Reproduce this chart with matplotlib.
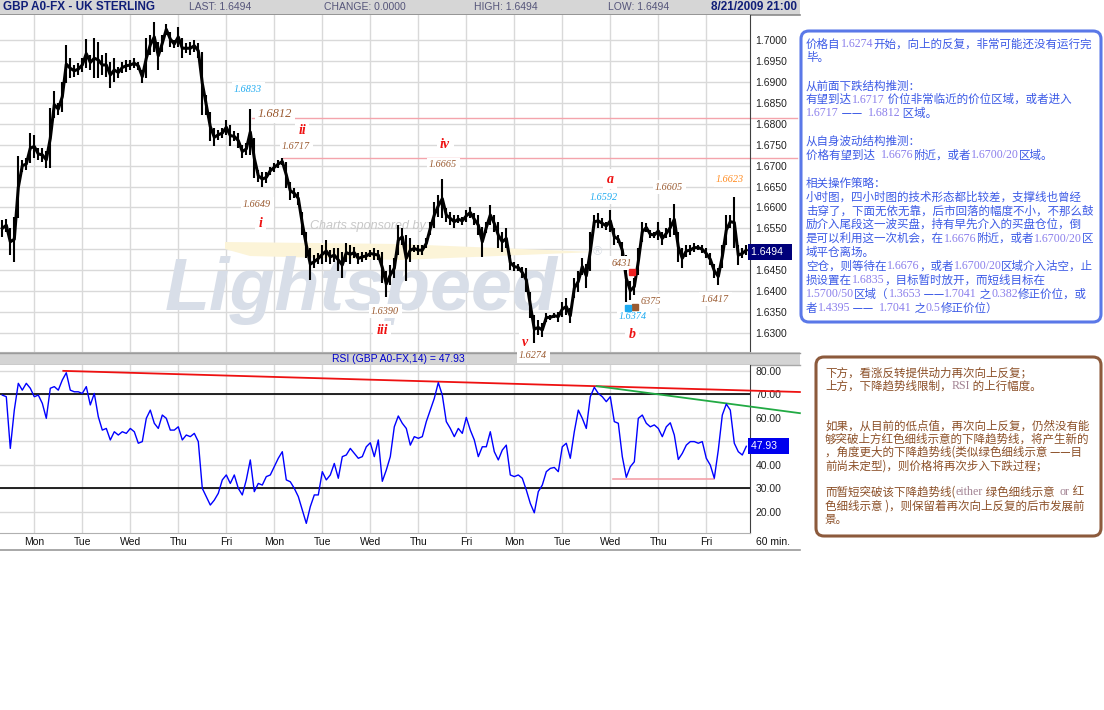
import re
import numpy as np
import matplotlib.pyplot as plt
from matplotlib.patches import Rectangle, FancyBboxPatch, Polygon

plt.rcParams['font.family'] = ['Liberation Sans', 'DejaVu Sans']
cjk = ['Noto Sans CJK SC', 'DejaVu Sans']

# GBP hourly chart, one bar every 2 hours, x = hours from the first Monday
hours = np.arange(-16, 357, 2)

price_lo = [1.6530, 1.6542, 1.6486, 1.6470, 1.6574, 1.6686, 1.6690, 1.6706, 1.6718, 1.6714,
            1.6710, 1.6694, 1.6694, 1.6813, 1.6821, 1.6829, 1.6897, 1.6909, 1.6913, 1.6917,
            1.6925, 1.6933, 1.6929, 1.6909, 1.6909, 1.6917, 1.6913, 1.6885, 1.6901, 1.6909,
            1.6921, 1.6925, 1.6929, 1.6933, 1.6929, 1.6897, 1.6909, 1.6965, 1.6973, 1.6929,
            1.6973, 1.7013, 1.6985, 1.6981, 1.6985, 1.6957, 1.6969, 1.6965, 1.6973, 1.6957,
            1.6821, 1.6821, 1.6758, 1.6746, 1.6762, 1.6766, 1.6774, 1.6746, 1.6758, 1.6742,
            1.6718, 1.6726, 1.6726, 1.6670, 1.6662, 1.6650, 1.6658, 1.6678, 1.6686, 1.6694,
            1.6702, 1.6646, 1.6618, 1.6622, 1.6606, 1.6534, 1.6478, 1.6427, 1.6455, 1.6466,
            1.6466, 1.6470, 1.6466, 1.6470, 1.6447, 1.6431, 1.6470, 1.6466, 1.6478, 1.6466,
            1.6470, 1.6474, 1.6482, 1.6474, 1.6474, 1.6419, 1.6387, 1.6415, 1.6431, 1.6486,
            1.6510, 1.6423, 1.6470, 1.6494, 1.6486, 1.6486, 1.6502, 1.6534, 1.6550, 1.6578,
            1.6574, 1.6566, 1.6558, 1.6550, 1.6562, 1.6558, 1.6566, 1.6574, 1.6558, 1.6534,
            1.6482, 1.6538, 1.6558, 1.6542, 1.6502, 1.6494, 1.6502, 1.6451, 1.6447, 1.6447,
            1.6431, 1.6399, 1.6335, 1.6275, 1.6295, 1.6291, 1.6327, 1.6331, 1.6335, 1.6327,
            1.6339, 1.6343, 1.6323, 1.6383, 1.6399, 1.6439, 1.6407, 1.6447, 1.6550, 1.6550,
            1.6550, 1.6546, 1.6542, 1.6510, 1.6514, 1.6478, 1.6375, 1.6379, 1.6391, 1.6439,
            1.6518, 1.6542, 1.6526, 1.6526, 1.6522, 1.6510, 1.6526, 1.6530, 1.6534, 1.6470,
            1.6455, 1.6482, 1.6486, 1.6494, 1.6498, 1.6490, 1.6478, 1.6462, 1.6431, 1.6415,
            1.6455, 1.6510, 1.6550, 1.6502, 1.6462, 1.6478, 1.6486]
price_hi = [1.6570, 1.6573, 1.6550, 1.6578, 1.6722, 1.6714, 1.6718, 1.6778, 1.6774, 1.6742,
            1.6742, 1.6734, 1.6837, 1.6879, 1.6850, 1.6901, 1.6989, 1.6957, 1.6941, 1.6945,
            1.6957, 1.7003, 1.6965, 1.7005, 1.6997, 1.6965, 1.6969, 1.6949, 1.6957, 1.6937,
            1.6949, 1.6953, 1.6953, 1.6957, 1.6949, 1.6929, 1.7005, 1.7013, 1.7043, 1.6997,
            1.7013, 1.7039, 1.7021, 1.7001, 1.7031, 1.7005, 1.6993, 1.6997, 1.7001, 1.6993,
            1.6973, 1.6869, 1.6829, 1.6790, 1.6786, 1.6790, 1.6810, 1.6798, 1.6782, 1.6778,
            1.6750, 1.6754, 1.6835, 1.6766, 1.6690, 1.6686, 1.6686, 1.6698, 1.6706, 1.6714,
            1.6718, 1.6710, 1.6662, 1.6646, 1.6638, 1.6590, 1.6542, 1.6502, 1.6486, 1.6490,
            1.6510, 1.6522, 1.6498, 1.6502, 1.6502, 1.6494, 1.6514, 1.6510, 1.6506, 1.6490,
            1.6494, 1.6494, 1.6498, 1.6502, 1.6498, 1.6494, 1.6447, 1.6462, 1.6478, 1.6558,
            1.6550, 1.6534, 1.6526, 1.6510, 1.6510, 1.6510, 1.6526, 1.6566, 1.6614, 1.6630,
            1.6668, 1.6598, 1.6590, 1.6582, 1.6582, 1.6578, 1.6594, 1.6602, 1.6586, 1.6582,
            1.6554, 1.6566, 1.6606, 1.6582, 1.6566, 1.6542, 1.6550, 1.6486, 1.6470, 1.6466,
            1.6458, 1.6455, 1.6399, 1.6343, 1.6331, 1.6323, 1.6347, 1.6343, 1.6347, 1.6351,
            1.6375, 1.6383, 1.6359, 1.6431, 1.6447, 1.6478, 1.6466, 1.6542, 1.6582, 1.6586,
            1.6574, 1.6566, 1.6594, 1.6550, 1.6534, 1.6518, 1.6486, 1.6423, 1.6431, 1.6502,
            1.6566, 1.6562, 1.6546, 1.6542, 1.6566, 1.6542, 1.6550, 1.6574, 1.6609, 1.6542,
            1.6502, 1.6510, 1.6510, 1.6514, 1.6510, 1.6510, 1.6502, 1.6490, 1.6466, 1.6455,
            1.6510, 1.6582, 1.6582, 1.6626, 1.6510, 1.6502, 1.6510]

rsi = [69.7, 69.0, 47.0, 63.3, 74.7, 71.8, 74.7, 72.6, 69.0, 69.7,
       66.2, 59.8, 72.6, 73.3, 71.8, 76.1, 79.2, 71.8, 71.1, 71.1,
       70.4, 73.3, 65.5, 70.4, 60.5, 54.8, 55.5, 50.6, 54.1, 52.7,
       54.1, 53.4, 55.5, 54.1, 49.2, 49.9, 59.8, 63.3, 57.7, 55.5,
       61.2, 59.8, 54.8, 54.8, 56.2, 50.6, 52.7, 52.0, 53.4, 49.9,
       30.0, 26.5, 22.9, 25.0, 27.9, 33.6, 35.7, 32.1, 35.7, 30.0,
       27.2, 33.6, 42.1, 28.6, 32.1, 31.4, 35.0, 35.7, 39.2, 42.8,
       45.6, 33.6, 32.8, 30.0, 26.5, 20.8, 15.1, 22.2, 27.2, 27.2,
       37.1, 33.6, 35.7, 40.6, 34.3, 43.5, 44.2, 47.0, 44.9, 42.8,
       43.5, 47.7, 49.4, 43.5, 50.6, 33.0, 37.8, 43.5, 56.2, 60.8,
       57.7, 55.5, 48.4, 52.0, 51.3, 52.0, 58.4, 63.3, 68.3, 75.0,
       69.7, 58.4, 55.5, 52.0, 55.5, 53.4, 60.2, 54.8, 50.6, 43.5,
       47.7, 47.7, 54.1, 45.6, 42.1, 46.3, 48.4, 35.7, 35.0, 35.7,
       34.3, 29.3, 23.6, 19.6, 28.6, 31.4, 37.1, 38.5, 38.9, 37.1,
       47.7, 49.2, 42.8, 54.1, 63.3, 59.8, 55.5, 69.0, 73.0, 70.4,
       69.0, 66.9, 69.0, 58.4, 57.7, 43.5, 34.7, 39.2, 41.3, 59.8,
       61.2, 57.7, 56.2, 57.0, 55.5, 52.0, 56.2, 57.9, 52.7, 42.3,
       44.9, 48.4, 49.9, 49.9, 49.2, 49.9, 42.8, 39.9, 34.3, 46.3,
       61.2, 65.9, 63.3, 49.2, 45.6, 44.2, 47.9]

last_price = 1.6494
last_rsi = 47.93
day_names = ['Mon', 'Tue', 'Wed', 'Thu', 'Fri'] * 3
day_hours = np.arange(0, 15 * 24, 24)
# 1.6500 and 50.00 sit under the last-value boxes, so they get no label
price_ticks = [1.6300, 1.6350, 1.6400, 1.6450, 1.6500, 1.6550, 1.6600, 1.6650,
               1.6700, 1.6750, 1.6800, 1.6850, 1.6900, 1.6950, 1.7000]
rsi_ticks = [20, 30, 40, 50, 60, 70, 80]

# resistance lines on price (start hour, end hour, level)
res_lines = [(108.7, 381.3, 1.6813), (124.5, 381.3, 1.6718)]
# trend lines on RSI
rsi_red = ([14.5, 382.8], [80.0, 71.0])
rsi_green = ([281.2, 382.8], [73.5, 62.0])
rsi_pink = ([289.5, 340.0], [34.0, 34.0])

# wave labels: text, hour, price, colour, size, bold
brown = '#9a5a30'
cyan = '#1eaaf0'
red = '#ee1111'
wave_labels = [
    ('1.6833', 106.9, 1.6883, cyan, 7.3, False),
    ('1.6812', 120.4, 1.6824, brown, 9.0, False),
    ('ii', 133.9, 1.6783, red, 10, True),
    ('1.6717', 130.9, 1.6745, brown, 7.3, False),
    ('1.6649', 111.4, 1.6608, brown, 7.3, False),
    ('i', 112.9, 1.6561, red, 10, True),
    ('1.6390', 175.4, 1.6352, brown, 7.3, False),
    ('iii', 173.9, 1.6305, red, 10, True),
    ('iv', 205.4, 1.6750, red, 10, True),
    ('1.6665', 204.4, 1.6702, brown, 7.3, False),
    ('v', 245.4, 1.6278, red, 10, True),
    ('1.6274', 249.4, 1.6245, brown, 7.3, False),
    ('a', 287.9, 1.6668, red, 10, True),
    ('1.6592', 284.9, 1.6625, cyan, 7.3, False),
    ('1.6605', 317.4, 1.6649, brown, 7.3, False),
    ('1.6623', 347.9, 1.6666, '#ff8a1e', 7.3, False),
    ('6431', 293.9, 1.6467, brown, 7.3, False),
    ('6375', 308.4, 1.6376, brown, 7.3, False),
    ('1.6374', 299.4, 1.6340, cyan, 7.3, False),
    ('b', 298.9, 1.6295, red, 10, True),
    ('1.6417', 340.4, 1.6381, brown, 7.3, False),
]
squares = [(298.9, 1.6446, '#ee2222'), (300.4, 1.6362, brown), (296.9, 1.6360, cyan)]

header_items = [('LAST: 1.6494', 189), ('CHANGE: 0.0000', 324), ('HIGH: 1.6494', 474), ('LOW: 1.6494', 608)]

blue_lines = [
    '价格自1.6274开始，向上的反复，非常可能还没有运行完',
    '毕。',
    '',
    '从前面下跌结构推测：',
    '有望到达1.6717 价位非常临近的价位区域，或者进入',
    '1.6717 —— 1.6812 区域。',
    '',
    '从自身波动结构推测：',
    '价格有望到达 1.6676附近，或者1.6700/20区域。',
    '',
    '相关操作策略：',
    '小时图，四小时图的技术形态都比较差，支撑线也曾经',
    '击穿了，下面无依无靠，后市回落的幅度不小，不那么鼓',
    '励介入尾段这一波买盘，持有早先介入的买盘仓位，倒',
    '是可以利用这一次机会，在1.6676附近，或者1.6700/20区',
    '域平仓离场。',
    '空仓，则等待在1.6676，或者1.6700/20区域介入沽空，止',
    '损设置在1.6835，目标暂时放开，而短线目标在',
    '1.5700/50区域（1.3653 ——1.7041 之0.382修正价位，或',
    '者1.4395 —— 1.7041 之0.5修正价位）',
]
brown_lines = [
    '下方，看涨反转提供动力再次向上反复；',
    '上方，下降趋势线限制，RSI 的上行幅度。',
    '',
    '',
    '如果，从目前的低点值，再次向上反复，仍然没有能',
    '够突破上方红色细线示意的下降趋势线，将产生新的',
    '，角度更大的下降趋势线(类似绿色细线示意 ——目',
    '前尚未定型)，则价格将再次步入下跌过程；',
    '',
    '而暂短突破该下降趋势线(either 绿色细线示意 or 红',
    '色细线示意 )，则保留着再次向上反复的后市发展前',
    '景。',
]

W, H = 1104, 710
fig = plt.figure(figsize=(W / 100, H / 100), dpi=100)
renderer = fig.canvas.get_renderer()

# overlay in pixel units for the frame pieces and the side notes
ov = fig.add_axes([0, 0, 1, 1], zorder=0)
ov.set_xlim(0, W)
ov.set_ylim(H, 0)
ov.axis('off')


def note_line(x, y, line, color, latin_color):
    # chinese text in the CJK font, numbers and latin words in a small serif
    for run in re.findall(r'[0-9A-Za-z./]+|[^0-9A-Za-z./]+', line):
        if re.match(r'[0-9A-Za-z./]', run):
            t = ov.text(x, y, run, family='Liberation Serif', color=latin_color,
                        fontsize=8.6, va='center')
        else:
            t = ov.text(x, y, run, family=cjk, color=color, fontsize=8.3, va='center')
        x += t.get_window_extent(renderer=renderer).width
        if run.endswith(' '):
            x += 3


ov.add_patch(Rectangle((0, 0), 800, 15, fc='#d6d6d6', ec='none'))
ov.plot([0, 800], [15, 15], color='#8a8a8a', lw=1.2)
ov.add_patch(Rectangle((0, 352), 800, 13, fc='#d4d4d4', ec='none'))
ov.plot([0, 800], [352.5, 352.5], color='#9a9a9a', lw=1)
ov.plot([0, 800], [365, 365], color='#a8a8a8', lw=1)
ov.plot([0, 800], [550, 550], color='#9a9a9a', lw=1.2)

ov.text(3, 7.5, 'GBP A0-FX - UK STERLING', color='#101e78', fontsize=8.5, fontweight='bold', va='center')
for lab, x0 in header_items:
    ov.text(x0, 7.5, lab, color='#55557a', fontsize=7.5, va='center')
ov.text(797, 7.5, '8/21/2009 21:00', color='#101e78', fontsize=8.5, fontweight='bold', va='center', ha='right')
ov.text(398, 358.5, 'RSI (GBP A0-FX,14) = 47.93', color='#0000cc', fontsize=7.5, va='center', ha='center')
ov.text(773, 542, '60 min.', color='#111111', fontsize=7.5, va='center', ha='center')

ov.add_patch(FancyBboxPatch((801, 31), 300, 291, boxstyle='round,pad=0,rounding_size=8',
                            fc='white', ec='#5a78e8', lw=2.2))
for k, line in enumerate(blue_lines):
    note_line(806, 44 + 13.9 * k, line, '#3c5ae6', '#8c80ec')

ov.add_patch(FancyBboxPatch((816, 357), 285, 179, boxstyle='round,pad=0,rounding_size=8',
                            fc='white', ec='#8c5a3c', lw=2.2))
for k, line in enumerate(brown_lines):
    note_line(825, 372.7 + 13.3 * k, line, '#8c5028', '#a08090')

# price panel
ax = fig.add_axes([0, 1 - 352 / H, 750 / W, 337 / H], zorder=1)
ax.set_xlim(-17.15, 357.85)
ax.set_ylim(1.62543, 1.70605)
ax.set_axisbelow(True)
ax.yaxis.tick_right()
ax.set_yticks(price_ticks)
ax.set_yticklabels(['' if v == 1.65 else f'{v:.4f}' for v in price_ticks])
ax.set_xticks(day_hours)
ax.tick_params(axis='x', length=0, labelbottom=False)
ax.tick_params(axis='y', length=0, pad=4, labelsize=7.5, labelcolor='#222222')
ax.grid(True, color='#d9d9d9', lw=1)
for s in ['left', 'top']:
    ax.spines[s].set_visible(False)
ax.spines['bottom'].set_color('#b0b0b0')
ax.spines['right'].set_color('#404040')

# watermark
ax.add_patch(Polygon([(225 / 750, 110 / 337), (400 / 750, 108 / 337), (595 / 750, 100 / 337),
                      (400 / 750, 92 / 337), (250 / 750, 96 / 337), (225 / 750, 103 / 337)],
                     closed=True, transform=ax.transAxes, fc='#fcf4d8', ec='none', zorder=0.8))
ax.text(165 / 750, 42 / 337, 'Lightspeed', transform=ax.transAxes, fontsize=53,
        fontweight='bold', fontstyle='italic', color='#d8dee8', zorder=0.9)
ax.text(597 / 750, 100 / 337, '®', transform=ax.transAxes, fontsize=9, color='#dadfe6',
        ha='center', va='center', zorder=0.9)
ax.text(310 / 750, 126 / 337, 'Charts sponsored by:', transform=ax.transAxes, fontsize=9,
        fontstyle='italic', color='#c8c8c8', va='center', zorder=0.9)

for h0, h1, lvl in res_lines:
    ax.plot([h0, h1], [lvl, lvl], color='#f4a4ac', lw=1, clip_on=False, zorder=2)

# bars: high-low sticks plus the running mid price so it reads as one thick trace
ax.vlines(hours, price_lo, price_hi, color='black', lw=1.5, zorder=3)
ax.plot(hours, (np.array(price_lo) + np.array(price_hi)) / 2, color='black', lw=2.2, zorder=3)

for txt, hx, py, col, size, bold in wave_labels:
    ax.text(hx, py, txt, color=col, fontsize=size, family='Liberation Serif', fontstyle='italic',
            fontweight='bold' if bold else 'normal', ha='center', va='center', clip_on=False,
            zorder=4, bbox=dict(boxstyle='square,pad=0.25', fc='white', ec='none'))
for hx, py, col in squares:
    ax.plot(hx, py, marker='s', ms=4, color=col, zorder=5)

ax.text(1.0 + 1 / 750, last_price, '1.6494  ', transform=ax.get_yaxis_transform(),
        color='white', fontsize=7.5, va='center', ha='left', zorder=6,
        bbox=dict(boxstyle='square,pad=0.3', fc='#00007a', ec='none'))

# RSI panel
ax2 = fig.add_axes([0, 1 - 533 / H, 750 / W, 168 / H], zorder=1)
ax2.set_xlim(-17.15, 357.85)
ax2.set_ylim(11.0, 82.5)
ax2.set_axisbelow(True)
ax2.yaxis.tick_right()
ax2.set_yticks(rsi_ticks)
ax2.set_yticklabels(['' if v == 50 else f'{v:.2f}' for v in rsi_ticks])
ax2.set_xticks(day_hours)
ax2.set_xticklabels(day_names)
ax2.tick_params(axis='x', length=0, pad=3, labelsize=7.5, labelcolor='#111111')
ax2.tick_params(axis='y', length=0, pad=4, labelsize=7.5, labelcolor='#222222')
ax2.grid(True, color='#d9d9d9', lw=1)
for s in ['left', 'top']:
    ax2.spines[s].set_visible(False)
ax2.spines['bottom'].set_color('#b0b0b0')
ax2.spines['right'].set_color('#404040')

ax2.axhline(70, color='black', lw=1.2, zorder=2)
ax2.axhline(30, color='black', lw=1.2, zorder=2)
ax2.plot(*rsi_red, color='#ee1111', lw=1.3, clip_on=False, zorder=3)
ax2.plot(*rsi_green, color='#22aa44', lw=1.3, clip_on=False, zorder=3)
ax2.plot(*rsi_pink, color='#f4a0a8', lw=1.2, zorder=3)
ax2.plot(hours, rsi, color='#0000ff', lw=1.0, zorder=4)

ax2.text(1.0 + 1 / 750, last_rsi, '47.93   ', transform=ax2.get_yaxis_transform(),
         color='white', fontsize=7.5, va='center', ha='left', zorder=6,
         bbox=dict(boxstyle='square,pad=0.3', fc='#0000ee', ec='none'))

fig.savefig('out.png', dpi=100)
